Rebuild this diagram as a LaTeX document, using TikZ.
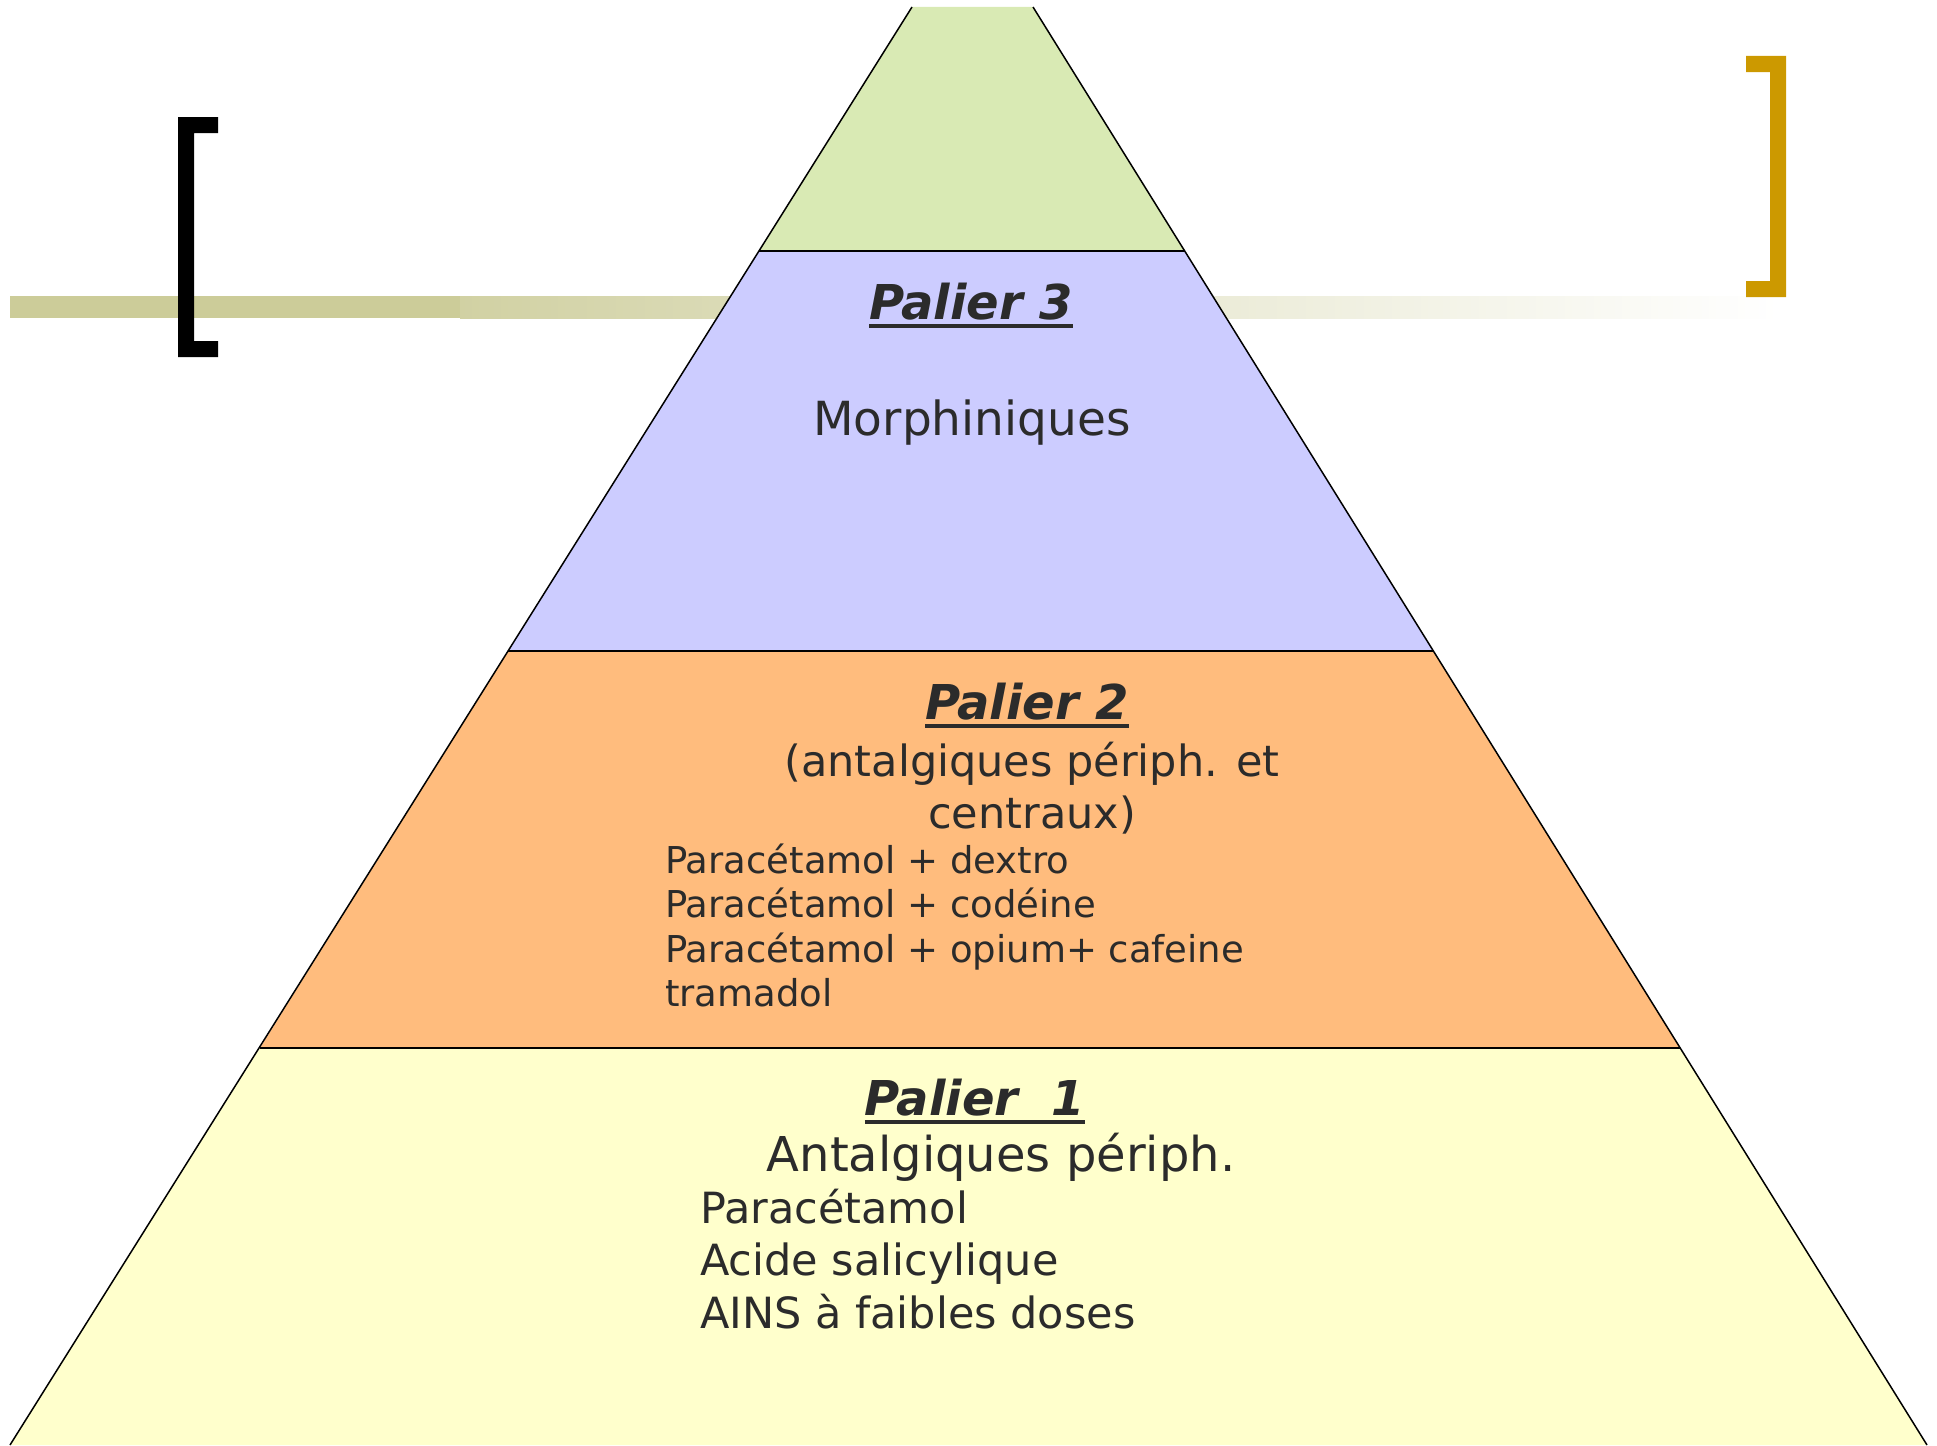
\documentclass[tikz,border=0pt]{standalone}
\usepackage{fontspec}
\setmainfont{DejaVu Sans}
\usepackage{tikz}
\usetikzlibrary{positioning}
\definecolor{topgreen}{RGB}{217,234,180}
\definecolor{lilac}{RGB}{204,204,255}
\definecolor{peach}{RGB}{255,188,125}
\definecolor{cream}{RGB}{255,255,204}
\definecolor{khaki}{RGB}{204,204,153}
\definecolor{gold}{RGB}{204,153,0}
\definecolor{ink}{RGB}{43,43,43}
\newcommand\souligne[1]{\setbox0\hbox{#1}\rlap{\rule[-9pt]{\wd0}{4pt}}\box0}
\newcommand\sz[2]{\fontsize{#1}{#2}\selectfont}

\begin{document}
\begin{tikzpicture}[x=1pt,y=-1pt,
	side/.style={draw=black,line width=1.5pt},
	divider/.style={draw=black,line width=2pt},
	titre/.style={anchor=base,inner sep=0pt,text=ink,font=\sz{48}{58}\bfseries\itshape},
	texte/.style={anchor=base,inner sep=0pt,text=ink,align=center},
	liste/.style={anchor=base west,inner sep=0pt,text=ink,align=left}]
  \useasboundingbox (0,0) rectangle (1937,1445);

  \fill[khaki] (10,296) rectangle (460,318);
  \shade[left color=khaki!90!white,right color=white] (460,296) rectangle (1780,318);

  \fill (178,117) -- (218,117) -- (218,133) -- (194,133) -- (194,341) -- (218,341)
	-- (218,357) -- (178,357) -- cycle;
  \fill[gold] (1746,56) -- (1786,56) -- (1786,297) -- (1746,297) -- (1746,281)
	-- (1770,281) -- (1770,72) -- (1746,72) -- cycle;

  \coordinate (a0) at (912,7);	\coordinate (b0) at (1033,7);
  \coordinate (a1) at (759,251);	\coordinate (b1) at (1185,251);
  \coordinate (a2) at (508,651);	\coordinate (b2) at (1433,651);
  \coordinate (a3) at (260,1048);	\coordinate (b3) at (1680,1048);
  \coordinate (a4) at (10,1445);	\coordinate (b4) at (1927,1445);

  \fill[topgreen] (a0) -- (b0) -- (b1) -- (a1) -- cycle;
  \fill[lilac] (a1) -- (b1) -- (b2) -- (a2) -- cycle;
  \fill[peach] (a2) -- (b2) -- (b3) -- (a3) -- cycle;
  \fill[cream] (a3) -- (b3) -- (b4) -- (a4) -- cycle;
  \path[side] (a0) -- (a4)  (b0) -- (b4);
  \path[divider] (a1) -- (b1)  (a2) -- (b2)  (a3) -- (b3);

  \node[titre] (p3) at (971,319) {\souligne{Palier 3}};
  \node[texte,font=\sz{47}{56}] (morph) at (972,435) {Morphiniques};

  \node[titre] (p2) at (1027,719) {\souligne{Palier 2}};
  \node[texte,font=\sz{43}{52}] (p2sub) at (1032,828) {(antalgiques périph. et\\centraux)};
  \node[liste,font=\sz{37}{44.5}] (p2list) at (665,1006.5) {Paracétamol + dextro\\Paracétamol + codéine\\Paracétamol + opium+ cafeine\\tramadol};

  \node[titre] (p1) at (975,1115) {\souligne{Palier\ \ 1}};
  \node[texte,font=\sz{48}{58}] (p1sub) at (1001,1171) {Antalgiques périph.};
  \node[liste,font=\sz{43}{52.5}] (p1list) at (700,1328) {Paracétamol\\Acide salicylique\\AINS à faibles doses};
\end{tikzpicture}
\end{document}
